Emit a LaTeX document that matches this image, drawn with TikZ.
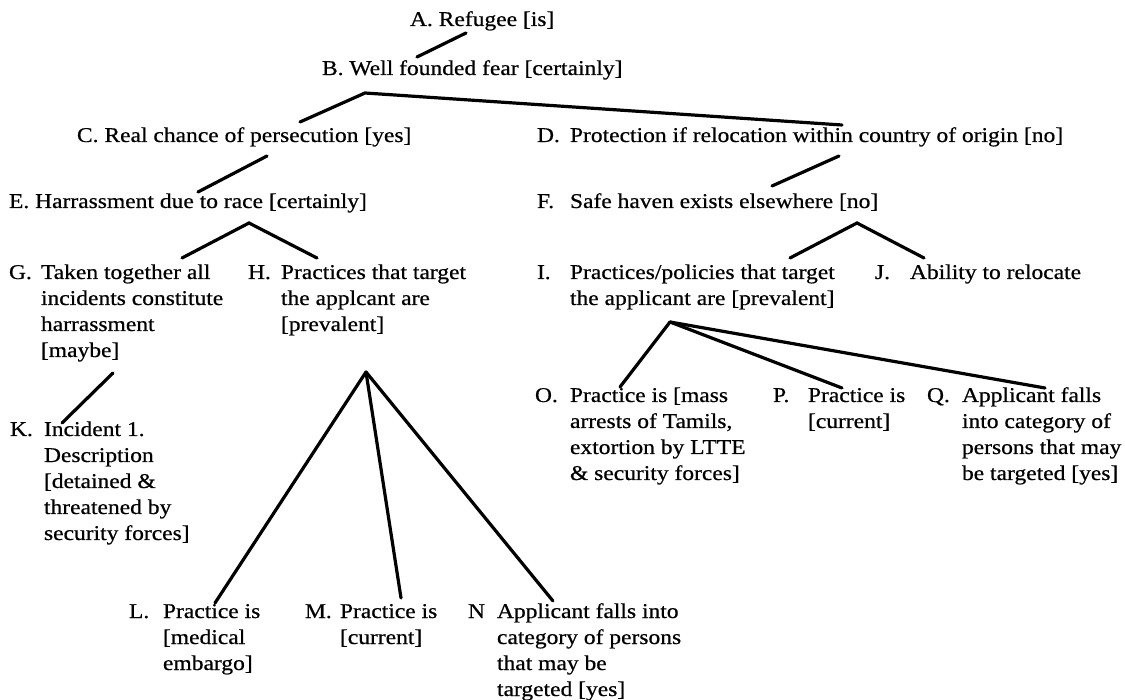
\documentclass[tikz,border=0pt]{standalone}
\usepackage{fontspec}
\setmainfont{Liberation Serif}[FakeStretch=1.12,FakeBold=0.6]
\usepackage{array}
\begin{document}
\begin{tikzpicture}[x=1pt,y=-1pt,
  item/.style={anchor=base west,inner sep=0pt,outer sep=0pt,font=\fontsize{21}{26}\selectfont},
  link/.style={line width=3.2pt,line cap=round,line join=miter}]
\useasboundingbox (0,0) rectangle (1125,700);
% nodes
\node[item] (A) at (410,26) {A. Refugee [is]};
\node[item] (B) at (322,75) {B. Well founded fear [certainly]};
\node[item] (C) at (77,142) {C. Real chance of persecution [yes]};
\node[item] (D) at (537,142) {\begin{tabular}[t]{@{}p{33pt}@{}l@{}}D.&Protection if relocation within country of origin [no]\end{tabular}};
\node[item] (E) at (9,208) {E. Harrassment due to race [certainly]};
\node[item] (F) at (537,208) {\begin{tabular}[t]{@{}p{33pt}@{}l@{}}F.&Safe haven exists elsewhere [no]\end{tabular}};
\node[item] (G) at (9,279) {\begin{tabular}[t]{@{}p{32pt}@{}l@{}}G.&Taken together all\\&incidents constitute\\&harrassment\\&[maybe]\end{tabular}};
\node[item] (H) at (248,279) {\begin{tabular}[t]{@{}p{33pt}@{}l@{}}H.&Practices that target\\&the applcant are\\&[prevalent]\end{tabular}};
\node[item] (I) at (537,279) {\begin{tabular}[t]{@{}p{33pt}@{}l@{}}I.&Practices/policies that target\\&the applicant are [prevalent]\end{tabular}};
\node[item] (J) at (875,279) {\begin{tabular}[t]{@{}p{35pt}@{}l@{}}J.&Ability to relocate\end{tabular}};
\node[item] (K) at (10,436) {\begin{tabular}[t]{@{}p{34pt}@{}l@{}}K.&Incident 1.\\&Description\\&[detained \&\\&threatened by\\&security forces]\end{tabular}};
\node[item] (L) at (129,618) {\begin{tabular}[t]{@{}p{34pt}@{}l@{}}L.&Practice is\\&[medical\\&embargo]\end{tabular}};
\node[item] (M) at (305,618) {\begin{tabular}[t]{@{}p{35pt}@{}l@{}}M.&Practice is\\&[current]\end{tabular}};
\node[item] (N) at (468,618) {\begin{tabular}[t]{@{}p{29pt}@{}l@{}}N&Applicant falls into\\&category of persons\\&that may be\\&targeted [yes]\end{tabular}};
\node[item] (O) at (535,402) {\begin{tabular}[t]{@{}p{35pt}@{}l@{}}O.&Practice is [mass\\&arrests of Tamils,\\&extortion by LTTE\\&\& security forces]\end{tabular}};
\node[item] (P) at (773,402) {\begin{tabular}[t]{@{}p{35pt}@{}l@{}}P.&Practice is\\&[current]\end{tabular}};
\node[item] (Q) at (927,402) {\begin{tabular}[t]{@{}p{35pt}@{}l@{}}Q.&Applicant falls\\&into category of\\&persons that may\\&be targeted [yes]\end{tabular}};
% connector end points
\coordinate (Abot) at (466,33);
\coordinate (Btop) at (417,57);
\coordinate (Bfork) at (365,93);
\coordinate (Ctop) at (300,122);
\coordinate (Dtop) at (842,125);
\coordinate (Cbot) at (267,156);
\coordinate (Etop) at (198,192);
\coordinate (Dbot) at (839,156);
\coordinate (Ftop) at (772,186);
\coordinate (Efork) at (249,223);
\coordinate (Gtop) at (182,258);
\coordinate (Htop) at (317,258);
\coordinate (Ffork) at (857,223);
\coordinate (Itop) at (790,258);
\coordinate (Jtop) at (924,258);
\coordinate (Gbot) at (113,373);
\coordinate (Ktop) at (62,423);
\coordinate (Hfork) at (366,372);
\coordinate (Ltop) at (215,603);
\coordinate (Mtop) at (401,598);
\coordinate (Ntop) at (553,601);
\coordinate (Ifork) at (670,322);
\coordinate (Otop) at (620,387);
\coordinate (Ptop) at (842,388);
\coordinate (Qtop) at (1045,388);
% connectors
\draw[link] (Abot) -- (Btop);
\draw[link] (Ctop) -- (Bfork) -- (Dtop);
\draw[link] (Cbot) -- (Etop);
\draw[link] (Dbot) -- (Ftop);
\draw[link] (Gtop) -- (Efork) -- (Htop);
\draw[link] (Itop) -- (Ffork) -- (Jtop);
\draw[link] (Gbot) -- (Ktop);
\draw[link] (Hfork) -- (Ltop);
\draw[link] (Hfork) -- (Mtop);
\draw[link] (Hfork) -- (Ntop);
\draw[link] (Ifork) -- (Otop);
\draw[link] (Ifork) -- (Ptop);
\draw[link] (Ifork) -- (Qtop);
\end{tikzpicture}
\end{document}
